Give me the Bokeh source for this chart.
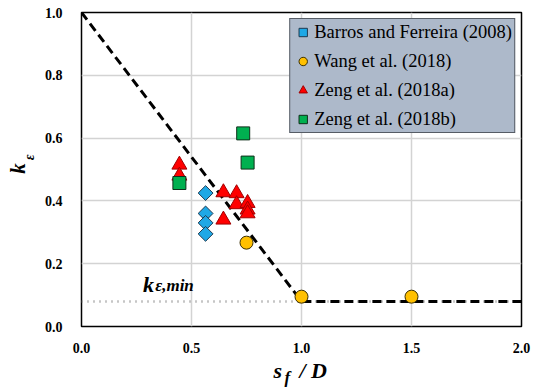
import math
from bokeh.plotting import figure
from bokeh.models import Range1d, FixedTicker, Label, Legend, PrintfTickFormatter
from bokeh.layouts import column, row
from bokeh.embed import file_html
from bokeh.resources import INLINE

# Data
barros_x = [0.564, 0.564, 0.564, 0.564]
barros_y = [0.425, 0.36, 0.33, 0.295]
wang_x = [0.75, 1.0, 1.5]
wang_y = [0.267, 0.095, 0.095]
zeng_a_x = [0.445, 0.445, 0.645, 0.645, 0.705, 0.705, 0.755, 0.755, 0.755]
zeng_a_y = [0.515, 0.48, 0.427, 0.34, 0.424, 0.389, 0.393, 0.372, 0.36]
zeng_b_x = [0.445, 0.735, 0.755]
zeng_b_y = [0.457, 0.615, 0.522]
design_x = [0.0, 1.0, 2.0]
design_y = [1.0, 0.08, 0.08]
kmin_x = [0.0, 2.0]
kmin_y = [0.08, 0.08]
x_ticks = [0.0, 0.5, 1.0, 1.5, 2.0]
y_ticks = [0.0, 0.2, 0.4, 0.6, 0.8, 1.0]
legend_labels = ["Barros and Ferreira (2008)", "Wang et al. (2018)",
                 "Zeng et al. (2018a)", "Zeng et al. (2018b)"]

SERIF = "Times New Roman"


def label_fig(w, h):
    f = figure(width=w, height=h, output_backend="svg", toolbar_location=None,
               x_axis_type=None, y_axis_type=None,
               x_range=Range1d(0, w), y_range=Range1d(0, h),
               min_border=0, min_border_left=0, min_border_right=0,
               min_border_top=0, min_border_bottom=0)
    f.outline_line_color = None
    f.xgrid.visible = False
    f.ygrid.visible = False
    f.background_fill_color = "white"
    f.border_fill_color = "white"
    return f


def txt(fig, x, y, text, size, angle=0.0, align="left", baseline="alphabetic"):
    fig.add_layout(Label(x=x, y=y, x_units="screen", y_units="screen", text=text,
                         text_font=SERIF, text_font_style="bold italic",
                         text_font_size=size, text_color="black",
                         text_align=align, text_baseline=baseline, angle=angle))


p = figure(width=493, height=355, output_backend="svg", toolbar_location=None,
           x_range=Range1d(0, 2), y_range=Range1d(0, 1),
           min_border_left=40, min_border_right=13, min_border_top=12,
           min_border_bottom=29)
p.outline_line_color = "black"
p.outline_line_width = 1.5
p.background_fill_color = "white"
p.border_fill_color = "white"

p.xaxis.axis_line_color = None
p.yaxis.axis_line_color = None
p.xaxis.major_tick_line_color = None
p.yaxis.major_tick_line_color = None
p.xaxis.minor_tick_line_color = None
p.yaxis.minor_tick_line_color = None
p.xaxis.major_label_text_font = SERIF
p.yaxis.major_label_text_font = SERIF
p.xaxis.major_label_text_font_style = "bold"
p.yaxis.major_label_text_font_style = "bold"
p.xaxis.major_label_text_font_size = "14px"
p.yaxis.major_label_text_font_size = "14px"
p.xaxis.major_label_text_color = "black"
p.yaxis.major_label_text_color = "black"
p.xaxis.major_label_standoff = 10
p.yaxis.major_label_standoff = 13
p.xaxis.ticker = FixedTicker(ticks=x_ticks)
p.yaxis.ticker = FixedTicker(ticks=y_ticks)
p.xaxis.formatter = PrintfTickFormatter(format="%.1f")
p.yaxis.formatter = PrintfTickFormatter(format="%.1f")

p.xgrid.ticker = FixedTicker(ticks=[0.5, 1.0, 1.5])
p.ygrid.ticker = FixedTicker(ticks=[0.2, 0.4, 0.6, 0.8])
p.xgrid.grid_line_color = "#D3D3D3"
p.ygrid.grid_line_color = "#D3D3D3"
p.xgrid.grid_line_width = 1.5
p.ygrid.grid_line_width = 1.5

p.line(kmin_x, kmin_y, line_color="#8C8C8C", line_width=2.5, line_dash="1 5")
p.line(design_x, design_y, line_color="black", line_width=3, line_dash="9 5")

r1 = p.scatter(barros_x, barros_y, marker="square", angle=math.pi / 4, size=10.5,
               fill_color="#1EA8E6", line_color="#1F3A50", line_width=1)
r2 = p.scatter(wang_x, wang_y, marker="circle", size=13,
               fill_color="#FFC000", line_color="#3A2E00", line_width=1)
r3 = p.scatter(zeng_a_x, zeng_a_y, marker="triangle", size=15,
               fill_color="#FF0000", line_color="#A00000", line_width=1)
r4 = p.scatter(zeng_b_x, zeng_b_y, marker="square", size=13,
               fill_color="#00B050", line_color="#0F2F1A", line_width=1)

legend = Legend(items=[(legend_labels[0], [r1]), (legend_labels[1], [r2]),
                       (legend_labels[2], [r3]), (legend_labels[3], [r4])],
                location="top_right")
legend.label_text_font = SERIF
legend.label_text_font_size = "18.5px"
legend.label_text_color = "black"
legend.background_fill_color = "#ADB9CA"
legend.background_fill_alpha = 1.0
legend.border_line_color = "black"
legend.border_line_width = 1.5
legend.margin = 6
legend.padding = 2
legend.spacing = 7
legend.label_height = 22
legend.glyph_height = 22
legend.glyph_width = 21
legend.label_standoff = 1
p.add_layout(legend, "center")

# k_eps,min label (inside the frame)
p.add_layout(Label(x=0.28, y=0.134, text="k", text_font=SERIF,
                   text_font_style="bold italic", text_font_size="22px",
                   text_color="black", text_baseline="alphabetic"))
p.add_layout(Label(x=0.335, y=0.13, text="ε,min", text_font=SERIF,
                   text_font_style="bold italic", text_font_size="17px",
                   text_color="black", text_baseline="alphabetic"))

# y axis title k_eps (this figure's frame is aligned with the main frame)
ylab = label_fig(41, 355)
txt(ylab, 17, 158, "k", "21px", math.pi / 2, "center", "middle")
txt(ylab, 28.5, 169, "ε", "14px", math.pi / 2, "center", "middle")

# x axis title s_f / D
xlab = label_fig(534, 35)
txt(xlab, 273, 20, "s", "22px")
txt(xlab, 284, 13, "f", "17px")
txt(xlab, 299, 20, "/ D", "22px")

layout = column(row(ylab, p, spacing=0), xlab, spacing=0)
open("out.html", "w").write(file_html(layout, INLINE))
